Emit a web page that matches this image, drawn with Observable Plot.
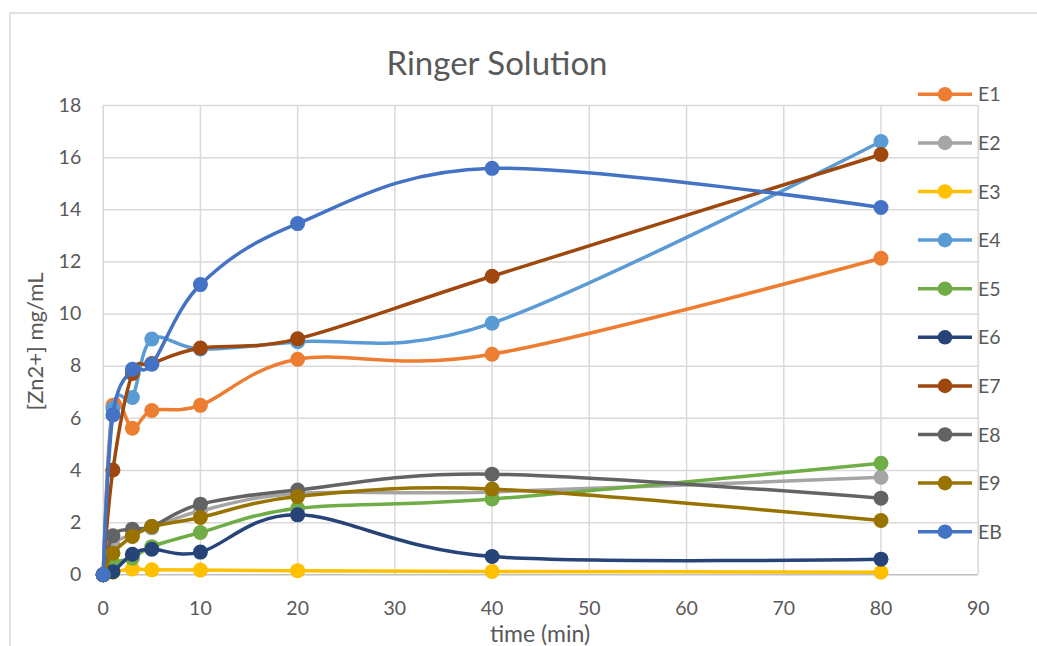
<!DOCTYPE html>
<html>
<head>
<meta charset="utf-8">
<script src="https://cdn.jsdelivr.net/npm/d3@7"></script>
<script src="https://cdn.jsdelivr.net/npm/@observablehq/plot@0.6"></script>
<style>
  html, body { margin: 0; padding: 0; background: white; }
  #chart { position: relative; width: 1037px; height: 646px; overflow: hidden; }
</style>
</head>
<body>
<div id="chart"></div>
<script>
// ---- data ----
const time = [0, 1, 3, 5, 10, 20, 40, 80];
const seriesNames = ["E1", "E2", "E3", "E4", "E5", "E6", "E7", "E8", "E9", "EB"];
const E1 = [0, 6.5, 5.62, 6.3, 6.5, 8.27, 8.46, 12.14];
const E2 = [0, 1.15, 1.55, 1.8, 2.45, 3.12, 3.18, 3.74];
const E3 = [0, 0.1, 0.22, 0.19, 0.18, 0.16, 0.13, 0.1];
const E4 = [0, 6.38, 6.8, 9.04, 8.66, 8.94, 9.65, 16.62];
const E5 = [0, 0.45, 0.64, 1.08, 1.62, 2.55, 2.91, 4.28];
const E6 = [0, 0.12, 0.79, 0.98, 0.87, 2.3, 0.7, 0.6];
const E7 = [0, 4.02, 7.72, 8.1, 8.7, 9.05, 11.45, 16.12];
const E8 = [0, 1.5, 1.75, 1.85, 2.71, 3.25, 3.86, 2.94];
const E9 = [0, 0.83, 1.47, 1.85, 2.2, 3.0, 3.29, 2.08];
const EB = [0, 6.13, 7.88, 8.08, 11.13, 13.47, 15.59, 14.09];
const colors = ["#ED7D31", "#A5A5A5", "#FFC000", "#5B9BD5", "#70AD47", "#264478", "#9E480E", "#636363", "#997300", "#4472C4"];
const xTicks = [0, 10, 20, 30, 40, 50, 60, 70, 80, 90];
const yTicks = [0, 2, 4, 6, 8, 10, 12, 14, 16, 18];
const titleText = "Ringer Solution";
const xLabel = "time (min)";
const yLabel = "[Zn2+] mg/mL";

const valuesBySeries = [E1, E2, E3, E4, E5, E6, E7, E8, E9, EB];
const series = seriesNames.map((name, i) => ({
  name, color: colors[i],
  rows: time.map((t, j) => ({t, v: valuesBySeries[i][j], name}))
}));

const W = 1037, H = 646;
const mL = 102.7, mR = 59.3, mT = 105, mB = 71.7;

const seriesMarks = series.flatMap(s => [
  Plot.line(s.rows, {x: "t", y: "v", stroke: s.color, strokeWidth: 3.5, curve: "cardinal"}),
  Plot.dot(s.rows, {x: "t", y: "v", fill: s.color, r: 7.5, stroke: "none"})
]);

const chart = Plot.plot({
  width: W, height: H,
  marginLeft: mL, marginRight: mR, marginTop: mT, marginBottom: mB,
  style: {fontFamily: "Lato, 'Open Sans', sans-serif", fontSize: "19.5px", color: "#595959", background: "white"},
  x: {domain: [0, 90], ticks: xTicks, tickSize: 0, tickPadding: 26, label: null},
  y: {domain: [0, 18], ticks: yTicks, tickSize: 0, tickPadding: 22, label: null},
  marks: [
    Plot.ruleX(xTicks, {stroke: "#d9d9d9", strokeWidth: 1.5}),
    Plot.ruleY(yTicks.filter(d => d !== 0), {stroke: "#d9d9d9", strokeWidth: 1.5}),
    Plot.ruleY([0], {stroke: "#bfbfbf", strokeWidth: 1.5}),
    ...seriesMarks
  ]
});
document.getElementById("chart").appendChild(chart);

// ---- overlay: border, title, axis labels, legend ----
const svg = d3.select(chart);
const ov = svg.append("g").attr("font-family", "Lato, 'Open Sans', sans-serif").attr("fill", "#595959");
ov.append("path").attr("d", `M10,${H + 5}V13H${W + 5}`).attr("fill", "none").attr("stroke", "#d9d9d9").attr("stroke-width", 1.5);
ov.append("text").attr("x", 497).attr("y", 75).attr("text-anchor", "middle").attr("font-size", 33).attr("fill", "#595959").text(titleText);
ov.append("text").attr("x", 540).attr("y", 642).attr("text-anchor", "middle").attr("font-size", 23).attr("fill", "#595959").text(xLabel);
ov.append("text").attr("transform", "translate(43,341.5) rotate(-90)").attr("text-anchor", "middle").attr("font-size", 22).attr("fill", "#595959").text(yLabel);

const lg = ov.append("g");
series.forEach((s, i) => {
  const cy = 94.3 + i * 48.6;
  const g = lg.append("g").attr("transform", `translate(0,${cy})`);
  g.append("line").attr("x1", 918).attr("x2", 972).attr("y1", 0).attr("y2", 0).attr("stroke", s.color).attr("stroke-width", 3.5);
  g.append("circle").attr("cx", 945).attr("cy", 0).attr("r", 7.3).attr("fill", s.color);
  g.append("text").attr("x", 978).attr("y", 0).attr("dy", "0.36em").attr("text-anchor", "start").attr("font-size", 19.5).attr("fill", "#595959").text(s.name);
});
</script>
</body>
</html>
